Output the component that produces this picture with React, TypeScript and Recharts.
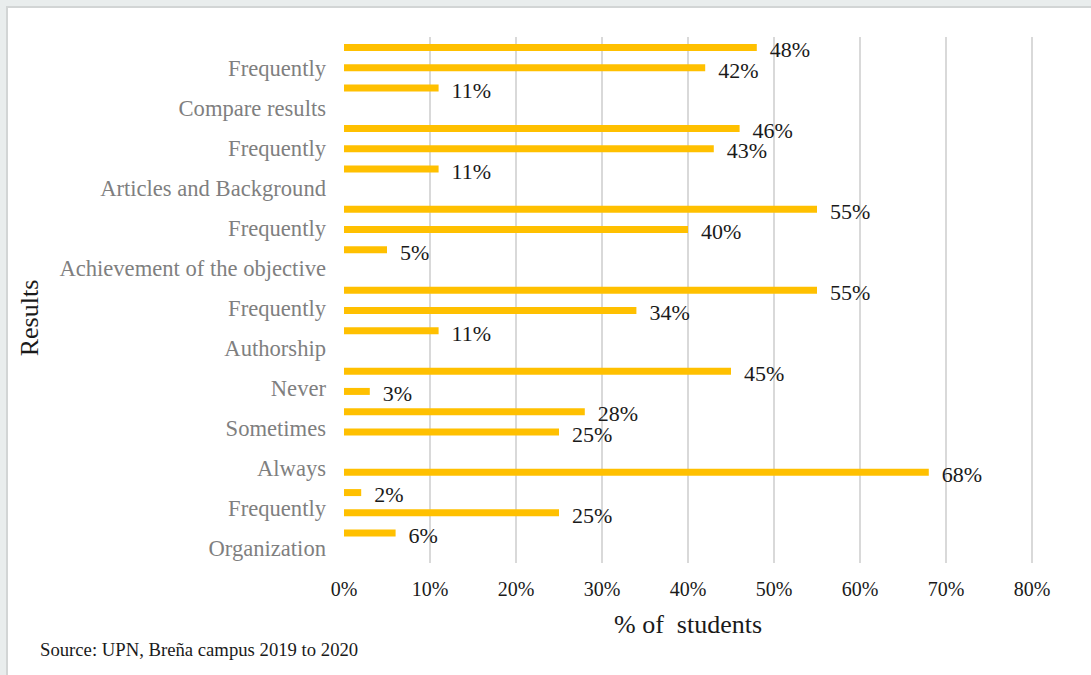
import {
  Bar,
  BarChart,
  CartesianGrid,
  Label,
  LabelList,
  XAxis,
  YAxis,
} from "recharts";

// bar slots from top to bottom, null = empty gap between groups
const slotValues: (number | null)[] = [
  48, 42, 11, null,
  46, 43, 11, null,
  55, 40, 5, null,
  55, 34, 11, null,
  45, 3, 28, 25, null,
  68, 2, 25, 6, null,
];

// category labels on the left, top to bottom
const rowLabels = [
  "Frequently",
  "Compare results",
  "Frequently",
  "Articles and Background",
  "Frequently",
  "Achievement of the objective",
  "Frequently",
  "Authorship",
  "Never",
  "Sometimes",
  "Always",
  "Frequently",
  "Organization",
];

const xTicks = [0, 10, 20, 30, 40, 50, 60, 70, 80];
const gridValues = xTicks.slice(1);
const rowTicks = rowLabels.map((_, i) => i);

const data = slotValues.map((value, i) => ({ slot: `s${i}`, value }));
const rowData = rowLabels.map((label, i) => ({ label, pos: i }));

const FONT = "'Liberation Serif', 'Times New Roman', serif";
const CHART_MARGIN = { top: 37, right: 59, left: 0, bottom: 42 };
// the label chart has no visible x axis, so its bottom margin covers that space
const LABEL_MARGIN = { top: 37, right: 59, left: 0, bottom: 112 };

export default function App() {
  return (
    <div
      style={{
        position: "fixed",
        left: 0,
        top: 0,
        width: 1091,
        height: 675,
        overflow: "hidden",
        background: "#e9eded",
        fontFamily: FONT,
      }}
    >
      <div
        style={{
          position: "absolute",
          left: 6,
          top: 6,
          width: 1110,
          height: 700,
          background: "#ffffff",
          border: "2px solid #d2d5d5",
        }}
      />

      {/* bars, value axis and grid */}
      <div style={{ position: "absolute", left: 0, top: 0 }}>
        <BarChart
          width={1091}
          height={675}
          data={data}
          layout="vertical"
          margin={CHART_MARGIN}
        >
          <CartesianGrid
            yAxisId="bars"
            horizontal={false}
            verticalValues={gridValues}
            stroke="#d9d9d9"
            strokeWidth={2}
          />

          <XAxis
            type="number"
            domain={[0, 80]}
            ticks={xTicks}
            interval={0}
            height={70}
            axisLine={false}
            tickLine={false}
            tickSize={0}
            tickMargin={19}
            tickFormatter={(v) => `${v}%`}
            tick={{ fill: "#1a1a1a", fontSize: 20, fontFamily: FONT }}
          >
            <Label
              content={(props: any) => {
                const vb = props.viewBox || { x: 344, y: 563, width: 688 };
                return (
                  <text
                    x={vb.x + vb.width / 2}
                    y={vb.y + 70}
                    textAnchor="middle"
                    fill="#1a1a1a"
                    fontSize={26}
                    fontFamily={FONT}
                  >
                    {"% of\u00A0 students"}
                  </text>
                );
              }}
            />
          </XAxis>

          <YAxis
            yAxisId="bars"
            type="category"
            dataKey="slot"
            width={344}
            axisLine={false}
            tickLine={false}
            tick={false}
          />

          <Bar
            yAxisId="bars"
            dataKey="value"
            fill="#ffc000"
            barSize={7}
            isAnimationActive={false}
          >
            <LabelList
              dataKey="value"
              position="right"
              offset={13}
              dy={2}
              formatter={(v: any) => (v == null ? "" : `${v}%`)}
              style={{ fill: "#1a1a1a", fontSize: 22, fontFamily: FONT }}
            />
          </Bar>
        </BarChart>
      </div>

      {/* left category labels, spaced on their own scale */}
      <div style={{ position: "absolute", left: 0, top: 0 }}>
        <BarChart width={1091} height={675} data={rowData} margin={LABEL_MARGIN}>
          <XAxis dataKey="label" hide />
          <YAxis
            type="number"
            domain={[0, 12]}
            allowDataOverflow
            reversed
            ticks={rowTicks}
            interval={0}
            width={344}
            padding={{ top: 31, bottom: 15 }}
            axisLine={false}
            tickLine={false}
            tickSize={0}
            tickMargin={18}
            tickFormatter={(v) => rowLabels[v] ?? ""}
            tick={{ fill: "#7f7f7f", fontSize: 22.6, fontFamily: FONT }}
          >
            <Label
              content={(props: any) => {
                const vb = props.viewBox || { x: 0, y: 37, height: 526 };
                const cx = vb.x + 38;
                const cy = vb.y + vb.height / 2 + 18;
                return (
                  <text
                    x={cx}
                    y={cy}
                    transform={`rotate(-90, ${cx}, ${cy})`}
                    textAnchor="middle"
                    fill="#1a1a1a"
                    fontSize={26}
                    fontFamily={FONT}
                  >
                    Results
                  </text>
                );
              }}
            />
          </YAxis>
        </BarChart>
      </div>

      <div
        style={{
          position: "absolute",
          left: 40,
          top: 640,
          fontSize: 18.7,
          lineHeight: "20px",
          color: "#1a1a1a",
          whiteSpace: "nowrap",
        }}
      >
        Source: UPN, Breña campus 2019 to 2020
      </div>
    </div>
  );
}
